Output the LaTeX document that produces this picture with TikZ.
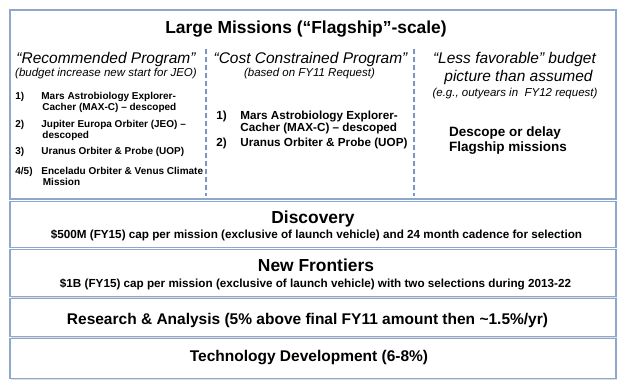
\documentclass[tikz,border=0pt]{standalone}
\usepackage{fontspec}
\setmainfont{Liberation Sans}
\usepackage{tikz}
\usetikzlibrary{matrix, positioning, shadows}
\definecolor{boxblue}{RGB}{141,168,204}
\definecolor{dashblue}{RGB}{118,152,198}

\begin{document}
\begin{tikzpicture}[x=1pt, y=-1pt,
  panel/.style={draw=boxblue, line width=1.2pt, fill=white, minimum width=606pt,
                inner sep=0pt, drop shadow={opacity=0.25, shadow xshift=0.8pt, shadow yshift=-1.2pt}},
  bighead/.style={font=\fontsize{17.4}{20}\selectfont\bfseries, inner sep=0pt, anchor=mid},
  colhead/.style={font=\fontsize{15.5}{18}\selectfont\itshape, inner sep=0pt, anchor=mid},
  colnote/.style={font=\fontsize{11.5}{13}\selectfont\itshape, inner sep=0pt, anchor=mid},
  subline/.style={font=\fontsize{11.7}{13}\selectfont\bfseries, inner sep=0pt, anchor=mid},
  barhead/.style={font=\fontsize{15.5}{18}\selectfont\bfseries, inner sep=0pt, anchor=mid},
  divider/.style={dashblue, line width=1.6pt, dash pattern=on 5pt off 3pt}]
\useasboundingbox (0,0) rectangle (624,387);
%
% the five panels
\node[panel, minimum height=189pt] (large) at (313,104.5) {};
\node[panel, minimum height=46pt]  (disc)  at (313,224.3) {};
\node[panel, minimum height=47pt]  (nf)    at (313,273.3) {};
\node[panel, minimum height=38pt]  (ra)    at (313,317.8) {};
\node[panel, minimum height=40pt]  (tech)  at (313,358.6) {};
%
\node[bighead] (ltitle) at (306,30.5) {Large Missions (``Flagship''-scale)};
%
% column dividers
\coordinate (d1top) at (206,49);  \coordinate (d1bot) at (206,196);
\coordinate (d2top) at (414,49);  \coordinate (d2bot) at (414,196);
\draw[divider] (d1top) -- (d1bot);
\draw[divider] (d2top) -- (d2bot);
%
% column headings
\node[colhead] (rechead) at (106,60.5)   {``Recommended Program''};
\node[colnote] (recnote) at (106,74)     {(budget increase new start for JEO)};
\node[colhead] (ccphead) at (310.5,60.5) {``Cost Constrained Program''};
\node[colnote] (ccpnote) at (309.5,74)   {(based on FY11 Request)};
\node[colhead] (lfhead)  at (514.5,61)   {``Less favorable'' budget};
\node[colhead] (lfhead2) at (518.5,78.5) {picture than assumed};
\node[colnote] (lfnote)  at (515,94)     {(e.g., outyears in \ FY12 request)};
%
% mission lists
\matrix (reclist) [matrix of nodes, anchor=north west, inner sep=0pt,
         column sep={26pt,between origins}, row sep={11pt,between origins},
         nodes={anchor=base west, inner sep=0pt, text height=7.4pt, text depth=2pt,
                font=\fontsize{10}{12}\selectfont\bfseries}] at (15,91.5)
{
 1)   & Mars Astrobiology Explorer-        \\
      & \hspace*{1pt}Cacher (MAX-C) -- descoped \\[6pt]
 2)   & Jupiter Europa Orbiter (JEO) --    \\
      & \hspace*{1pt}descoped              \\[5pt]
 3)   & Uranus Orbiter \& Probe (UOP)      \\[9.5pt]
 4/5) & Enceladu Orbiter \& Venus Climate  \\
      & \hspace*{1.5pt}Mission             \\
};
%
\matrix (ccplist) [matrix of nodes, anchor=north west, inner sep=0pt,
         column sep={24pt,between origins}, row sep={11.5pt,between origins},
         nodes={anchor=base west, inner sep=0pt, text height=8.6pt, text depth=2.4pt,
                font=\fontsize{11.7}{13}\selectfont\bfseries}] at (216,111)
{
 1) & Mars Astrobiology Explorer-   \\
    & Cacher (MAX-C) -- descoped    \\[4pt]
 2) & Uranus Orbiter \& Probe (UOP) \\
};
%
\matrix (lflist) [matrix of nodes, anchor=north west, inner sep=0pt,
         row sep={15pt,between origins},
         nodes={anchor=base west, inner sep=0pt, text height=9.9pt, text depth=2.8pt,
                font=\fontsize{13.5}{15}\selectfont\bfseries}] at (449,126.5)
{
 Descope or delay  \\
 Flagship missions \\
};
%
% the four bars below
\node[bighead] (dtitle) at (313,220.5) {Discovery};
\node[subline] (dnote)  at (316.5,236) {\$500M (FY15) cap per mission (exclusive of launch vehicle) and 24 month cadence for selection};
\node[bighead] (ntitle) at (316,268.5) {New Frontiers};
\node[subline] (nnote)  at (315.5,284.5) {\$1B (FY15) cap per mission (exclusive of launch vehicle) with two selections during 2013-22};
\node[barhead] (rtext)  at (307.5,321.5) {Research \& Analysis (5\% above final FY11 amount then \textasciitilde1.5\%/yr)};
\node[barhead] (ttext)  at (309,359) {Technology Development (6-8\%)};
%
\end{tikzpicture}
\end{document}
